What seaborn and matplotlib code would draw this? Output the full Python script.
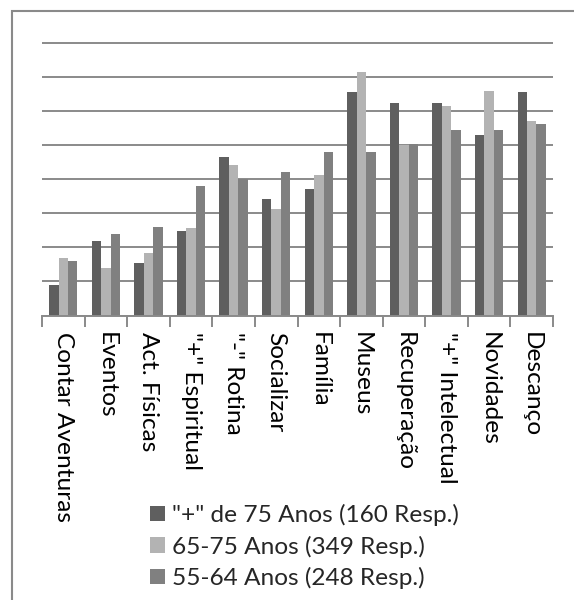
import matplotlib
matplotlib.use("Agg")
import matplotlib.pyplot as plt
import seaborn as sns
import pandas as pd
import numpy as np
from matplotlib.patches import Patch, Rectangle

categories = ["Contar Aventuras", "Eventos", "Act. Físicas", "\"+\" Espiritual",
              "\"-\" Rotina", "Socializar", "Família", "Museus", "Recuperação",
              "\"+\" Intelectual", "Novidades", "Descanço"]
series_names = ["\"+\" de 75 Anos (160 Resp.)", "65-75 Anos (349 Resp.)", "55-64 Anos (248 Resp.)"]
over75 = [4.55, 10.9, 7.7, 12.4, 23.35, 17.1, 18.65, 32.8, 31.2, 31.2, 26.5, 32.8]
age65_75 = [8.5, 7.05, 9.2, 12.8, 22.15, 15.65, 20.7, 35.8, 25.05, 30.75, 32.95, 28.6]
age55_64 = [7.95, 11.95, 13.0, 19.1, 20.1, 21.15, 24.1, 24.1, 25.2, 27.2, 27.2, 28.15]
colors = ["#5f5f5f", "#b3b3b3", "#808080"]

df = pd.DataFrame({
    "cat": categories * 3,
    "serie": [series_names[0]] * 12 + [series_names[1]] * 12 + [series_names[2]] * 12,
    "val": over75 + age65_75 + age55_64,
})

sns.set_theme(style="white")
FAM = ["Lato", "DejaVu Sans"]
plt.rcParams["font.family"] = FAM

W, H = 574, 600
fig = plt.figure(figsize=(W / 100, H / 100), dpi=100)
renderer = fig.canvas.get_renderer()

# size the font so the first legend entry is about 287 px wide (as in the reference)
probe = fig.text(0, 0, series_names[0], fontsize=10)
w10 = probe.get_window_extent(renderer).width
h10 = probe.get_window_extent(renderer).height
probe.remove()
FS = 10 * 287 / w10
fpx = FS * 100 / 72
text_h = h10 * FS / 10

ax = fig.add_axes([42 / W, 1 - 315.5 / H, (553 - 42) / W, (315.5 - 41.3) / H])

sns.barplot(data=df, x="cat", y="val", hue="serie", palette=colors, order=categories,
            hue_order=series_names, width=0.667, ax=ax, legend=False, saturation=1,
            linewidth=0)

ax.set_ylim(0, 40.3)
ax.set_xlim(-0.5, 11.5)
ax.set_yticks(np.arange(0, 41, 5))
ax.set_yticklabels([])
ax.tick_params(axis="y", length=0)
ax.yaxis.grid(True, color="#8a8a8a", linewidth=1.4)
ax.set_axisbelow(True)
for s in ["top", "right", "left"]:
    ax.spines[s].set_visible(False)
ax.spines["bottom"].set_color("#8a8a8a")
ax.spines["bottom"].set_linewidth(1.4)

ax.set_xticks(range(12))
ax.set_xticklabels(categories, rotation=-90, va="top", ha="center", fontsize=FS, color="black")
ax.tick_params(axis="x", which="major", length=0, pad=12)
ax.set_xticks(np.arange(-0.5, 12, 1), minor=True)
ax.tick_params(axis="x", which="minor", length=8, width=1.4, color="#8a8a8a", bottom=True)
ax.set_xlabel("")
ax.set_ylabel("")

handles = [Patch(facecolor=c, edgecolor="none") for c in colors]
row_px = 31.5
fig.legend(handles, series_names, loc="upper left",
           bbox_to_anchor=(150 / W, 1 - (515 - text_h / 2) / H),
           frameon=False, fontsize=FS, handlelength=15 / fpx, handleheight=15 / fpx,
           handletextpad=7 / fpx, labelspacing=max(0.0, (row_px - text_h) / fpx),
           borderpad=0, borderaxespad=0)

fig.patches.append(Rectangle((12 / W, -0.1), 1.2, 1 - 11 / H + 0.1, transform=fig.transFigure,
                             fill=False, edgecolor="#8a8a8a", linewidth=1.5))

fig.savefig("out.png", dpi=100)
